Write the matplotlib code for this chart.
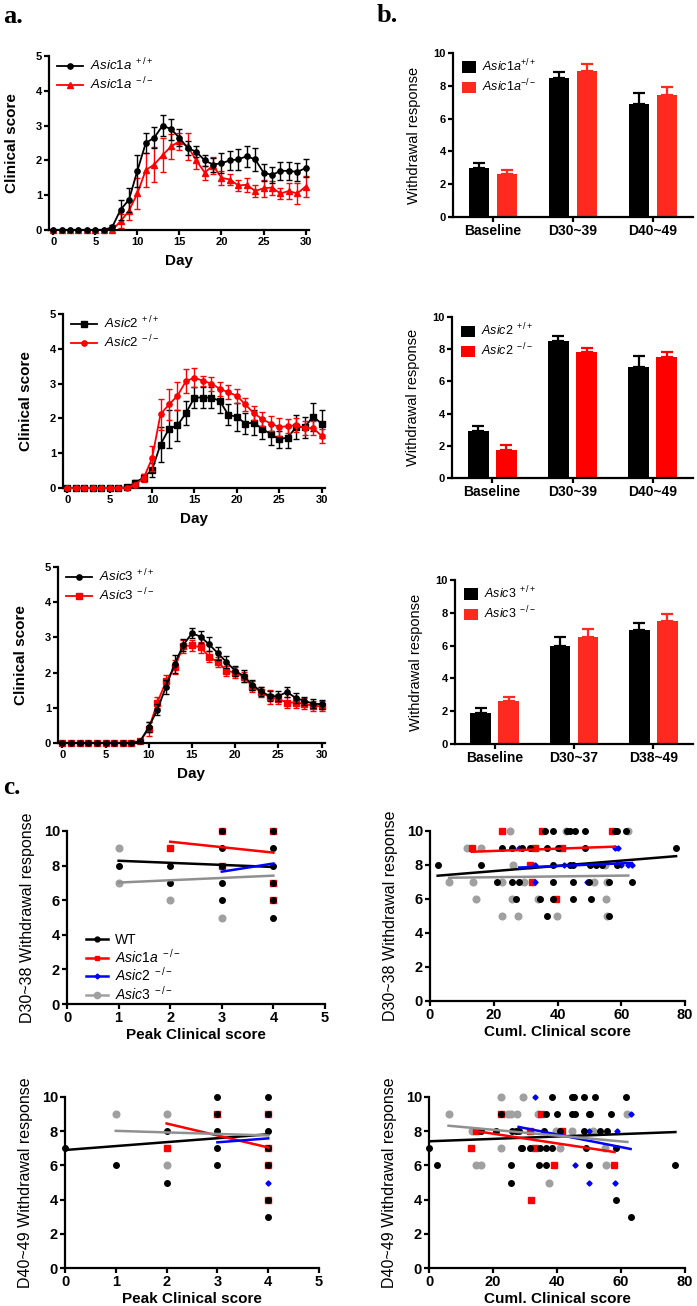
import numpy as np
import matplotlib
matplotlib.use("Agg")
import matplotlib.pyplot as plt
from matplotlib.lines import Line2D

plt.rcParams['font.family'] = ['Liberation Sans', 'DejaVu Sans']
plt.rcParams['mathtext.fontset'] = 'custom'
plt.rcParams['mathtext.rm'] = 'Liberation Sans'
plt.rcParams['mathtext.it'] = 'Liberation Sans:italic'
plt.rcParams['mathtext.bf'] = 'Liberation Sans:bold'

# ---- panel a: clinical score by day ----
days = list(range(31))

a1_wt = [0, 0, 0, 0, 0, 0, 0, 0.08, 0.58, 0.87, 1.7, 2.5, 2.65, 3.0, 2.9, 2.65, 2.35, 2.25, 2.0, 1.88,
         1.92, 2.0, 2.03, 2.12, 2.03, 1.65, 1.58, 1.7, 1.7, 1.67, 1.78]
a1_wt_err = [0, 0, 0, 0, 0, 0, 0, 0.05, 0.28, 0.35, 0.45, 0.3, 0.3, 0.3, 0.3, 0.25, 0.2, 0.15, 0.15, 0.2,
             0.28, 0.28, 0.3, 0.3, 0.33, 0.25, 0.22, 0.25, 0.25, 0.25, 0.25]
a1_ko = [0, 0, 0, 0, 0, 0, 0, 0, 0.25, 0.55, 1.05, 1.72, 1.88, 2.15, 2.4, 2.55, 2.4, 2.0, 1.65, 1.85,
         1.5, 1.45, 1.28, 1.3, 1.12, 1.2, 1.22, 1.05, 1.12, 1.05, 1.25]
a1_ko_err = [0, 0, 0, 0, 0, 0, 0, 0, 0.2, 0.25, 0.45, 0.48, 0.5, 0.48, 0.35, 0.25, 0.4, 0.25, 0.2, 0.25,
             0.2, 0.15, 0.15, 0.2, 0.18, 0.25, 0.2, 0.15, 0.22, 0.3, 0.3]

a2_wt = [0, 0, 0, 0, 0, 0, 0, 0.02, 0.15, 0.3, 0.52, 1.25, 1.7, 1.8, 2.15, 2.6, 2.6, 2.6, 2.5, 2.1,
         2.05, 1.85, 1.88, 1.7, 1.55, 1.4, 1.45, 1.75, 1.75, 2.05, 1.85]
a2_wt_err = [0, 0, 0, 0, 0, 0, 0, 0.03, 0.08, 0.1, 0.2, 0.5, 0.55, 0.45, 0.35, 0.3, 0.3, 0.3, 0.35, 0.3,
             0.4, 0.3, 0.35, 0.3, 0.3, 0.25, 0.3, 0.35, 0.3, 0.4, 0.4]
a2_ko = [0, 0, 0, 0, 0, 0, 0, 0, 0.1, 0.28, 0.85, 2.12, 2.4, 2.65, 3.07, 3.17, 3.08, 3.0, 2.85, 2.75,
         2.65, 2.4, 2.15, 1.98, 1.85, 1.75, 1.78, 1.8, 1.73, 1.72, 1.5]
a2_ko_err = [0, 0, 0, 0, 0, 0, 0, 0, 0.05, 0.12, 0.35, 0.45, 0.45, 0.4, 0.35, 0.28, 0.15, 0.2, 0.2, 0.2,
             0.2, 0.2, 0.2, 0.2, 0.22, 0.25, 0.2, 0.2, 0.2, 0.2, 0.2]

a3_wt = [0, 0, 0, 0, 0, 0, 0, 0, 0, 0.05, 0.45, 0.95, 1.6, 2.25, 2.78, 3.12, 3.02, 2.8, 2.55, 2.3,
         2.05, 1.9, 1.65, 1.47, 1.33, 1.33, 1.45, 1.28, 1.2, 1.12, 1.1]
a3_wt_err = [0, 0, 0, 0, 0, 0, 0, 0, 0, 0.03, 0.15, 0.15, 0.2, 0.25, 0.18, 0.15, 0.17, 0.2, 0.18, 0.18,
             0.15, 0.17, 0.15, 0.13, 0.15, 0.15, 0.15, 0.13, 0.12, 0.12, 0.12]
a3_ko = [0, 0, 0, 0, 0, 0, 0, 0, 0, 0.05, 0.4, 1.15, 1.75, 2.15, 2.75, 2.77, 2.72, 2.45, 2.3, 2.05,
         2.0, 1.88, 1.6, 1.45, 1.3, 1.25, 1.15, 1.15, 1.12, 1.05, 1.05]
a3_ko_err = [0, 0, 0, 0, 0, 0, 0, 0, 0, 0.03, 0.2, 0.15, 0.18, 0.2, 0.18, 0.15, 0.15, 0.15, 0.15, 0.15,
             0.15, 0.15, 0.15, 0.15, 0.2, 0.15, 0.15, 0.15, 0.15, 0.15, 0.15]

# ---- panel b: withdrawal response bars ----
b_cats_1 = ["Baseline", "D30~39", "D40~49"]
b_cats_3 = ["Baseline", "D30~37", "D38~49"]
b1_wt, b1_wt_err = [3.0, 8.5, 6.9], [0.28, 0.35, 0.65]
b1_ko, b1_ko_err = [2.62, 8.9, 7.45], [0.25, 0.45, 0.5]
b2_wt, b2_wt_err = [2.95, 8.5, 6.9], [0.3, 0.35, 0.65]
b2_ko, b2_ko_err = [1.75, 7.8, 7.5], [0.28, 0.3, 0.3]
b3_wt, b3_wt_err = [1.9, 6.0, 6.95], [0.3, 0.5, 0.45]
b3_ko, b3_ko_err = [2.6, 6.55, 7.5], [0.25, 0.45, 0.4]

# ---- panel c: correlations ----
# c1: peak score vs D30~38
c1_wt_x = [1, 2, 2, 3, 3, 3, 3, 3, 4, 4, 4, 4, 4, 4]
c1_wt_y = [8, 8, 7, 10, 9, 8, 7, 6, 10, 9, 8, 7, 6, 5]
c1_a1_x = [2, 3, 3, 4, 4, 4]
c1_a1_y = [9, 10, 8, 10, 7, 6]
c1_a2_x = [3, 4]
c1_a2_y = [8, 8]
c1_a3_x = [1, 1, 2, 3]
c1_a3_y = [9, 7, 6, 5]
c1_fit_wt = ([1, 4], [8.28, 7.92])
c1_fit_a1 = ([2, 4], [9.38, 8.75])
c1_fit_a2 = ([3, 4], [7.65, 8.12])
c1_fit_a3 = ([1, 4], [7.02, 7.42])

# c2: cumulative score vs D30~38
c2_wt_x = [36, 38.7, 43, 44, 45.5, 48.6, 58, 58.8, 61.5,
           22.5, 25.6, 29, 31.4, 36.6, 40.3, 48.6, 77.2,
           2.4, 16, 38.7, 44, 45, 50.2, 52.1, 53.9, 58.6,
           20.9, 25.6, 28, 38.5, 45, 50, 56, 63.3,
           26.9, 34.5, 38.5, 45, 50.5,
           36.6, 56]
c2_wt_y = [10, 10, 10, 10, 10, 10, 10, 10, 10,
           9, 9, 9, 9, 9, 9, 9, 9,
           8, 8, 8, 8, 8, 8, 8, 8, 8,
           7, 7, 7, 7, 7, 7, 7, 7,
           6, 6, 6, 6, 6,
           5, 5]
c2_a1_x = [22.5, 35, 57, 13.1, 33, 41.5, 31.4, 31.9, 39.5]
c2_a1_y = [10, 10, 10, 9, 9, 9, 8, 7, 6]
c2_a2_x = [28, 58, 59, 33, 42, 60, 62.2, 63.3, 49.2, 33]
c2_a2_y = [9, 9, 9, 8, 8, 8, 8, 8, 7, 7]
c2_a3_x = [25, 42.7, 62.2, 11.5, 16, 25.9, 54.9, 6, 13.4, 22.5, 29.5, 51.3, 55.4,
           14.4, 25.8, 34, 55.1, 22.5, 27.5, 39.7, 55.4]
c2_a3_y = [10, 10, 10, 9, 9, 8, 8, 7, 7, 7, 7, 7, 7,
           6, 6, 6, 6, 5, 5, 5, 5]
c2_fit_wt = ([2.4, 77.2], [7.37, 8.52])
c2_fit_a1 = ([13.1, 58], [8.78, 9.08])
c2_fit_a2 = ([28, 63.3], [7.85, 8.12])
c2_fit_a3 = ([6, 62.2], [7.25, 7.38])

# c3: peak score vs D40~49
c3_wt_x = [0, 1, 2, 2, 3, 3, 3, 3, 3, 4, 4, 4, 4, 4, 4, 4]
c3_wt_y = [7, 6, 8, 5, 10, 9, 8, 7, 6, 10, 9, 8, 7, 6, 4, 3]
c3_a1_x = [2, 3, 4, 4, 4, 4]
c3_a1_y = [7, 9, 9, 7, 6, 4]
c3_a2_x = [3, 4, 4]
c3_a2_y = [8, 8, 5]
c3_a3_x = [1, 2, 2]
c3_a3_y = [9, 9, 6]
c3_fit_wt = ([0, 4], [6.9, 7.82])
c3_fit_a1 = ([2, 4], [8.45, 7.05])
c3_fit_a2 = ([3, 4], [7.35, 7.58])
c3_fit_a3 = ([1, 4], [8.02, 7.75])

# c4: cumulative score vs D40~49
c4_wt_x = [38.5, 44.8, 45.3, 48.4, 52, 61.5,
           22.5, 36.5, 40, 44.8, 45.5, 50, 50.4, 56.8,
           16.1, 21, 26, 27.1, 28.1, 35.9, 41, 48.4, 53.5, 55.7,
           0, 28.6, 29.2, 31.5, 34.6, 36.5, 38.5, 49, 58.3,
           2.6, 25.7, 34.4, 36.5, 50, 76.8,
           25.7, 58.3, 63]
c4_wt_y = [10, 10, 10, 10, 10, 10,
           9, 9, 9, 9, 9, 9, 9, 9,
           8, 8, 8, 8, 8, 8, 8, 8, 8, 8,
           7, 7, 7, 7, 7, 7, 7, 7, 7,
           6, 6, 6, 6, 6, 6,
           5, 4, 3]
c4_a1_x = [22.5, 35.1, 14.8, 31.5, 41.6, 13, 33, 39, 57.8, 32]
c4_a1_y = [9, 9, 8, 8, 8, 7, 7, 6, 6, 4]
c4_a2_x = [33, 63, 50, 58.9, 45.5, 50, 58]
c4_a2_y = [10, 9, 8, 8, 6, 5, 5]
c4_a3_x = [22.6, 29.4, 6.1, 24.7, 25.7, 27.6, 34, 61.9, 13.5, 39.6, 44.8, 51.3,
           22.6, 40.8, 54.9, 14.6, 16.1, 55.2, 37.5]
c4_a3_y = [10, 10, 9, 9, 9, 9, 9, 9, 8, 8, 8, 8,
           7, 7, 7, 6, 6, 6, 5]
c4_fit_wt = ([0, 77], [7.41, 7.95])
c4_fit_a1 = ([14.8, 58], [8.0, 6.78])
c4_fit_a2 = ([28, 63], [8.25, 6.96])
c4_fit_a3 = ([6.1, 62], [8.32, 7.37])

W, H = 697, 1306
fig = plt.figure(figsize=(W / 100, H / 100), dpi=100)


def box(l, t, r, b):
    return fig.add_axes([l / W, 1 - b / H, (r - l) / W, (b - t) / H])


def style(ax, size):
    for s in ['top', 'right']:
        ax.spines[s].set_visible(False)
    for s in ['left', 'bottom']:
        ax.spines[s].set_linewidth(1.6)
    ax.tick_params(width=1.6, length=3.5, labelsize=size, pad=1.5)
    plt.setp(ax.get_xticklabels() + ax.get_yticklabels(), fontweight='bold')


def line_panel(pos, wt, wt_err, ko, ko_err, wt_m, ko_m, wt_lab, ko_lab, ko_first):
    ax = box(*pos)
    series = [(wt, wt_err, 'black', wt_m, wt_lab), (ko, ko_err, 'red', ko_m, ko_lab)]
    if ko_first:
        series = series[::-1]
    for k, (v, e, c, m, lab) in enumerate(series):
        ax.errorbar(days, v, yerr=e, fmt='none', ecolor=c, elinewidth=1.0,
                    capsize=2.5, capthick=1.0, zorder=2 + k, clip_on=False)
        ax.plot(days, v, color=c, marker=m, ms=3.8, lw=1.3, label=lab,
                zorder=2 + k, clip_on=False)
    ax.set_xlim(-0.5, 30.4)
    ax.set_ylim(0, 5)
    ax.set_xticks([0, 5, 10, 15, 20, 25, 30])
    ax.set_yticks([0, 1, 2, 3, 4, 5])
    style(ax, 8)
    ax.set_xlabel("Day", fontsize=11, fontweight='bold', labelpad=5)
    ax.set_ylabel("Clinical score", fontsize=11, fontweight='bold', labelpad=12)
    h, l = ax.get_legend_handles_labels()
    if ko_first:
        h, l = h[::-1], l[::-1]
    ax.legend(h, l, loc='upper left', bbox_to_anchor=(0.0, 1.04), frameon=False,
              fontsize=9.5, handlelength=2.0, handletextpad=0.5, labelspacing=0.2,
              borderaxespad=0.2)
    return ax


def bar_panel(pos, cats, wt, wt_err, ko, ko_err, ko_color, wt_lab, ko_lab):
    ax = box(*pos)
    x = np.arange(len(cats))
    ax.bar(x - 0.175, wt, 0.26, color='black', label=wt_lab, zorder=2)
    ax.bar(x + 0.175, ko, 0.26, color=ko_color, label=ko_lab, zorder=2)
    ax.errorbar(x - 0.175, wt, yerr=[np.zeros(len(cats)), wt_err], fmt='none', ecolor='black',
                elinewidth=1.6, capsize=4.5, capthick=1.6, zorder=1)
    ax.errorbar(x + 0.175, ko, yerr=[np.zeros(len(cats)), ko_err], fmt='none', ecolor=ko_color,
                elinewidth=1.6, capsize=4.5, capthick=1.6, zorder=1)
    ax.set_xlim(-0.5, 2.5)
    ax.set_ylim(0, 10)
    ax.set_xticks(x)
    ax.set_xticklabels(cats)
    ax.set_yticks([0, 2, 4, 6, 8, 10])
    style(ax, 8)
    plt.setp(ax.get_xticklabels(), fontsize=10)
    ax.set_ylabel("Withdrawal response", fontsize=10.5, labelpad=9)
    ax.legend(loc='upper left', bbox_to_anchor=(-0.01, 1.04), frameon=False, fontsize=9,
              handlelength=1.1, handleheight=1.0, handletextpad=0.5, labelspacing=0.3)
    return ax


def scatter_panel(pos, xmax, xticks, groups, fits, xlabel, ylabel, show_legend):
    ax = box(*pos)
    for (gx, gy, c, m, ms, z) in groups:
        ax.plot(gx, gy, ls='none', marker=m, ms=ms, color=c, mec=c, zorder=z, clip_on=False)
    for (fx, fy), c in fits:
        ax.plot(fx, fy, color=c, lw=1.8, zorder=6)
    ax.set_xlim(0, xmax)
    ax.set_ylim(0, 10)
    ax.set_xticks(xticks)
    ax.set_yticks([0, 2, 4, 6, 8, 10])
    style(ax, 10.5)
    ax.set_xlabel(xlabel, fontsize=11, fontweight='bold', labelpad=2)
    ax.set_ylabel(ylabel, fontsize=11.5, labelpad=6)
    if show_legend:
        hs = [Line2D([], [], color='black', marker='o', ms=3.5, lw=1.8),
              Line2D([], [], color='red', marker='s', ms=3.5, lw=1.8),
              Line2D([], [], color='blue', marker='D', ms=2.5, lw=1.8),
              Line2D([], [], color='#a0a0a0', marker='o', ms=4.5, lw=1.8)]
        ls = ["WT", r"$\mathit{Asic1a}^{\ -/-}$", r"$\mathit{Asic2}^{\ -/-}$",
              r"$\mathit{Asic3}^{\ -/-}$"]
        ax.legend(hs, ls, loc='lower left', bbox_to_anchor=(0.04, -0.04), frameon=False,
                  fontsize=10, handlelength=1.6, handletextpad=0.5, labelspacing=0.05,
                  borderaxespad=0.2)
    return ax


line_panel((49, 56, 309, 230), a1_wt, a1_wt_err, a1_ko, a1_ko_err, 'o', '^',
           r"$\mathit{Asic1a}^{\ +/+}$", r"$\mathit{Asic1a}^{\ -/-}$", True)
line_panel((63, 314, 325, 488), a2_wt, a2_wt_err, a2_ko, a2_ko_err, 's', 'o',
           r"$\mathit{Asic2}^{\ +/+}$", r"$\mathit{Asic2}^{\ -/-}$", False)
line_panel((58, 567, 325, 743), a3_wt, a3_wt_err, a3_ko, a3_ko_err, 'o', 's',
           r"$\mathit{Asic3}^{\ +/+}$", r"$\mathit{Asic3}^{\ -/-}$", True)

bar_panel((453, 53, 693, 217), b_cats_1, b1_wt, b1_wt_err, b1_ko, b1_ko_err, '#ff2a1f',
          r"$\mathit{Asic1a}^{+/+}$", r"$\mathit{Asic1a}^{-/-}$")
bar_panel((452, 317, 693, 478), b_cats_1, b2_wt, b2_wt_err, b2_ko, b2_ko_err, '#ff0000',
          r"$\mathit{Asic2}^{\ +/+}$", r"$\mathit{Asic2}^{\ -/-}$")
bar_panel((455, 580, 693, 744), b_cats_3, b3_wt, b3_wt_err, b3_ko, b3_ko_err, '#ff2a1f',
          r"$\mathit{Asic3}^{\ +/+}$", r"$\mathit{Asic3}^{\ -/-}$")

gray = '#a0a0a0'
fit_cols = ['black', 'red', 'blue', '#909090']


def groups_of(wx, wy, r1x, r1y, bx, by, gx, gy):
    return [(gx, gy, gray, 'o', 4.8, 3), (r1x, r1y, 'red', 's', 4.2, 4),
            (bx, by, 'blue', 'D', 2.6, 4.5), (wx, wy, 'black', 'o', 4.0, 5)]


scatter_panel((67, 831, 325, 1004), 5, [0, 1, 2, 3, 4, 5],
              groups_of(c1_wt_x, c1_wt_y, c1_a1_x, c1_a1_y, c1_a2_x, c1_a2_y, c1_a3_x, c1_a3_y),
              list(zip([c1_fit_wt, c1_fit_a1, c1_fit_a2, c1_fit_a3], fit_cols)),
              "Peak Clinical score", "D30~38 Withdrawal response", True)
scatter_panel((430, 831, 685, 1001), 80, [0, 20, 40, 60, 80],
              groups_of(c2_wt_x, c2_wt_y, c2_a1_x, c2_a1_y, c2_a2_x, c2_a2_y, c2_a3_x, c2_a3_y),
              list(zip([c2_fit_wt, c2_fit_a1, c2_fit_a2, c2_fit_a3], fit_cols)),
              "Cuml. Clinical score", "D30~38 Withdrawal response", False)
scatter_panel((65, 1097, 319, 1268), 5, [0, 1, 2, 3, 4, 5],
              groups_of(c3_wt_x, c3_wt_y, c3_a1_x, c3_a1_y, c3_a2_x, c3_a2_y, c3_a3_x, c3_a3_y),
              list(zip([c3_fit_wt, c3_fit_a1, c3_fit_a2, c3_fit_a3], fit_cols)),
              "Peak Clinical score", "D40~49 Withdrawal response", False)
scatter_panel((429, 1097, 685, 1268), 80, [0, 20, 40, 60, 80],
              groups_of(c4_wt_x, c4_wt_y, c4_a1_x, c4_a1_y, c4_a2_x, c4_a2_y, c4_a3_x, c4_a3_y),
              list(zip([c4_fit_wt, c4_fit_a1, c4_fit_a2, c4_fit_a3], fit_cols)),
              "Cuml. Clinical score", "D40~49 Withdrawal response", False)

for lab, px, py, fs in [("a.", 3, 23, 19), ("b.", 377, 22, 19), ("c.", 3, 794, 18)]:
    fig.text(px / W, 1 - py / H, lab, fontsize=fs, fontweight='bold',
             family=['Liberation Serif', 'DejaVu Serif'], va='baseline', ha='left')

fig.savefig("out.png", dpi=100)
